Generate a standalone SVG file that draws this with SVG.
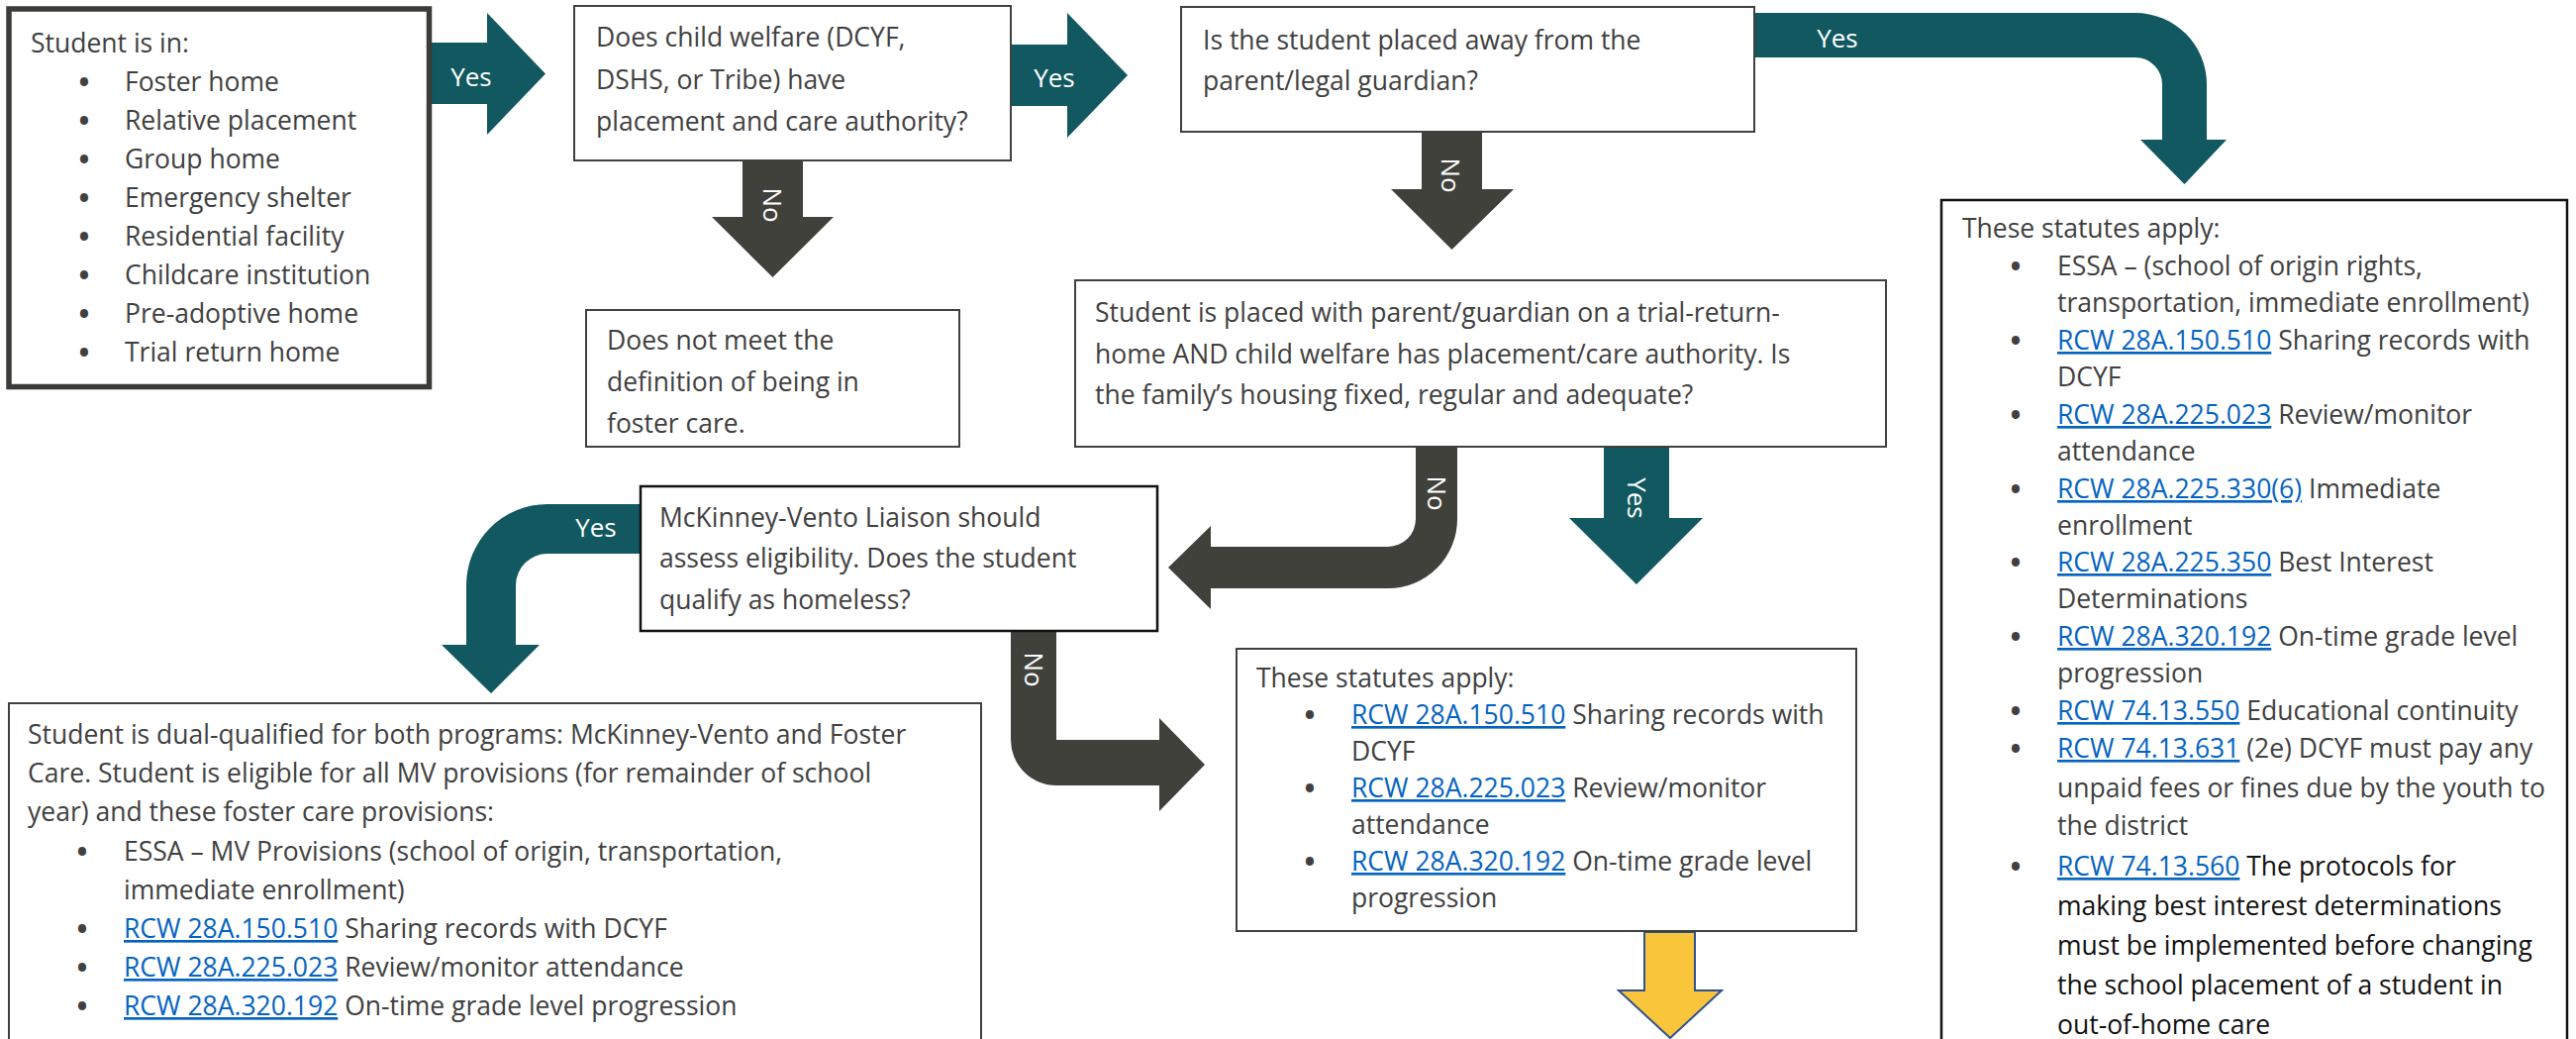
<svg xmlns="http://www.w3.org/2000/svg" width="2602" height="1049" viewBox="0 0 2602 1049">
<style>
text { font-family: "Open Sans", "Noto Sans", "DejaVu Sans", sans-serif; font-size: 26.5px; fill: #404040; }
.lk { fill: #0563C1; text-decoration: underline; }
.blk { fill: #111111; }
.bu { text-anchor: middle; font-size: 29px; font-weight: 700; }
.lbl { fill: #ffffff; font-size: 26px; text-anchor: middle; }
.box { fill: #ffffff; stroke: #404040; stroke-width: 2; }
.boxk { fill: #ffffff; stroke: #111111; stroke-width: 2.5; }
.teal { fill: #115860; }
.dark { fill: #41413c; }
.yel { fill: #F9C63B; stroke: #2F528F; stroke-width: 2; }
</style>
<rect width="2602" height="1049" fill="#ffffff"/>

<g id="connectors">
  <path class="teal" d="M436,43 H492 V13 L551,74.5 L492,136 V105 H436 Z"/>
  <text class="lbl" x="476" y="87">Yes</text>

  <path class="teal" d="M1021,45 H1078 V13 L1139,76 L1078,139 V107 H1021 Z"/>
  <text class="lbl" x="1065" y="88">Yes</text>

  <path class="dark" d="M750,161 H811 V219 H842 L780.5,280 L719,219 H750 Z"/>
  <text class="lbl" transform="rotate(90 780 207)" x="780" y="216">No</text>

  <path class="dark" d="M1436,133 H1497 V191 H1529 L1466.5,252 L1405,191 H1436 Z"/>
  <text class="lbl" transform="rotate(90 1465 177)" x="1465" y="186">No</text>

  <path class="teal" d="M1772,13 H2157 A72,72 0 0 1 2229,85 V141 H2249 L2206.5,186 L2162,141 H2184 V85 A27,27 0 0 0 2157,58 H1772 Z"/>
  <text class="lbl" x="1856" y="48">Yes</text>

  <path class="dark" d="M1430,450 H1472 V524 A70,70 0 0 1 1402,594 H1223 V615 L1180,573 L1223,531 V552 H1402 A28,28 0 0 0 1430,524 Z"/>
  <text class="lbl" transform="rotate(90 1451 498)" x="1451" y="507">No</text>

  <path class="teal" d="M1620,450 H1686 V523 H1720 L1653,590 L1585,523 H1620 Z"/>
  <text class="lbl" transform="rotate(90 1653 503)" x="1653" y="512">Yes</text>

  <path class="teal" d="M648,509 H553 A82,82 0 0 0 471,591 V651 H446 L496,700 L545,651 H521 V591 A32,32 0 0 1 553,559 H648 Z"/>
  <text class="lbl" x="602" y="542">Yes</text>

  <path class="dark" d="M1021,637 H1067 V747 H1171 V725 L1217,772 L1171,819 V793 H1067 A46,46 0 0 1 1021,747 Z"/>
  <text class="lbl" transform="rotate(90 1044 676)" x="1044" y="685">No</text>

  <path class="yel" d="M1661,941 H1712 V1000 H1739 L1687,1048 L1635,1000 H1661 Z"/>
</g>

<g id="start">
  <rect x="9" y="9" width="424.5" height="381.5" fill="#ffffff" stroke="#3b3b38" stroke-width="5.5"/>
  <text x="31" y="53">Student is in:</text>
  <text class="bu" x="85" y="93">•</text><text x="126" y="92">Foster home</text>
  <text class="bu" x="85" y="132">•</text><text x="126" y="131">Relative placement</text>
  <text class="bu" x="85" y="171">•</text><text x="126" y="170">Group home</text>
  <text class="bu" x="85" y="210">•</text><text x="126" y="209">Emergency shelter</text>
  <text class="bu" x="85" y="249">•</text><text x="126" y="248">Residential facility</text>
  <text class="bu" x="85" y="288">•</text><text x="126" y="287">Childcare institution</text>
  <text class="bu" x="85" y="327">•</text><text x="126" y="326">Pre-adoptive home</text>
  <text class="bu" x="85" y="366">•</text><text x="126" y="365">Trial return home</text>
</g>

<g id="authority">
  <rect class="box" x="580" y="6" width="441" height="156"/>
  <text x="602" y="47">Does child welfare (DCYF,</text>
  <text x="602" y="89.5">DSHS, or Tribe) have</text>
  <text x="602" y="132">placement and care authority?</text>
</g>

<g id="not-foster">
  <rect class="box" x="592" y="313" width="377" height="138"/>
  <text x="613" y="353">Does not meet the</text>
  <text x="613" y="395">definition of being in</text>
  <text x="613" y="437">foster care.</text>
</g>

<g id="placed-away">
  <rect class="box" x="1193" y="7" width="579" height="126"/>
  <text x="1215" y="50">Is the student placed away from the</text>
  <text x="1215" y="91">parent/legal guardian?</text>
</g>

<g id="trial-return">
  <rect class="box" x="1086" y="283" width="819" height="168"/>
  <text x="1106" y="325">Student is placed with parent/guardian on a trial-return-</text>
  <text x="1106" y="367">home AND child welfare has placement/care authority. Is</text>
  <text x="1106" y="408">the family’s housing fixed, regular and adequate?</text>
</g>

<g id="statutes-full">
  <rect class="boxk" x="1961" y="202" width="632" height="900"/>
  <text x="1982" y="240">These statutes apply:</text>
  <text class="bu" x="2036" y="279">•</text><text x="2078" y="278">ESSA – (school of origin rights,</text>
  <text x="2078" y="315">transportation, immediate enrollment)</text>
  <text class="bu" x="2036" y="354">•</text><text x="2078" y="353"><tspan class="lk">RCW 28A.150.510</tspan> Sharing records with</text>
  <text x="2078" y="390">DCYF</text>
  <text class="bu" x="2036" y="429">•</text><text x="2078" y="428"><tspan class="lk">RCW 28A.225.023</tspan> Review/monitor</text>
  <text x="2078" y="465">attendance</text>
  <text class="bu" x="2036" y="504">•</text><text x="2078" y="503"><tspan class="lk">RCW 28A.225.330(6)</tspan> Immediate</text>
  <text x="2078" y="540">enrollment</text>
  <text class="bu" x="2036" y="578">•</text><text x="2078" y="577"><tspan class="lk">RCW 28A.225.350</tspan> Best Interest</text>
  <text x="2078" y="614">Determinations</text>
  <text class="bu" x="2036" y="653">•</text><text x="2078" y="652"><tspan class="lk">RCW 28A.320.192</tspan> On-time grade level</text>
  <text x="2078" y="689">progression</text>
  <text class="bu" x="2036" y="728">•</text><text x="2078" y="727"><tspan class="lk">RCW 74.13.550</tspan> Educational continuity</text>
  <text class="bu" x="2036" y="766">•</text><text x="2078" y="765"><tspan class="lk">RCW 74.13.631</tspan> (2e) DCYF must pay any</text>
  <text x="2078" y="805">unpaid fees or fines due by the youth to</text>
  <text x="2078" y="843">the district</text>
  <text class="bu" x="2036" y="885">•</text><text x="2078" y="884"><tspan class="lk">RCW 74.13.560</tspan><tspan class="blk"> The protocols for</tspan></text>
  <text class="blk" x="2078" y="924">making best interest determinations</text>
  <text class="blk" x="2078" y="964">must be implemented before changing</text>
  <text class="blk" x="2078" y="1004">the school placement of a student in</text>
  <text class="blk" x="2078" y="1044">out-of-home care</text>
</g>

<g id="mckinney-vento">
  <rect class="boxk" x="647" y="491" width="522" height="146"/>
  <text x="666" y="532">McKinney-Vento Liaison should</text>
  <text x="666" y="573">assess eligibility. Does the student</text>
  <text x="666" y="615">qualify as homeless?</text>
</g>

<g id="statutes-partial">
  <rect class="box" x="1249" y="655" width="626" height="285"/>
  <text x="1269" y="694">These statutes apply:</text>
  <text class="bu" x="1323" y="732">•</text><text x="1365" y="731"><tspan class="lk">RCW 28A.150.510</tspan> Sharing records with</text>
  <text x="1365" y="768">DCYF</text>
  <text class="bu" x="1323" y="806">•</text><text x="1365" y="805"><tspan class="lk">RCW 28A.225.023</tspan> Review/monitor</text>
  <text x="1365" y="842">attendance</text>
  <text class="bu" x="1323" y="880">•</text><text x="1365" y="879"><tspan class="lk">RCW 28A.320.192</tspan> On-time grade level</text>
  <text x="1365" y="916">progression</text>
</g>

<g id="dual-qualified">
  <rect class="box" x="9" y="710" width="982" height="400"/>
  <text x="28" y="751">Student is dual-qualified for both programs: McKinney-Vento and Foster</text>
  <text x="28" y="790">Care. Student is eligible for all MV provisions (for remainder of school</text>
  <text x="28" y="829">year) and these foster care provisions:</text>
  <text class="bu" x="83" y="870">•</text><text x="125" y="869">ESSA – MV Provisions (school of origin, transportation,</text>
  <text x="125" y="908">immediate enrollment)</text>
  <text class="bu" x="83" y="948">•</text><text x="125" y="947"><tspan class="lk">RCW 28A.150.510</tspan> Sharing records with DCYF</text>
  <text class="bu" x="83" y="987">•</text><text x="125" y="986"><tspan class="lk">RCW 28A.225.023</tspan> Review/monitor attendance</text>
  <text class="bu" x="83" y="1026">•</text><text x="125" y="1025"><tspan class="lk">RCW 28A.320.192</tspan> On-time grade level progression</text>
</g>
</svg>
